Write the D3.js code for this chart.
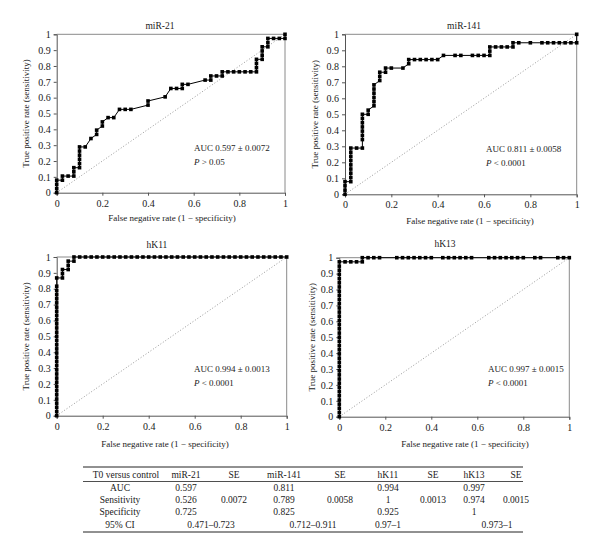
<!DOCTYPE html>
<html><head><meta charset="utf-8">
<script src="https://cdn.jsdelivr.net/npm/d3@7"></script>
<style>body{margin:0;background:#fff}svg{display:block}text{font-family:"Liberation Serif","DejaVu Serif",serif;fill:#1a1a1a}</style>
</head><body>
<script>
// ---- data ----
const titles = ["miR-21", "miR-141", "hK11", "hK13"];
const aucLabels = ["AUC 0.597 \u00b1 0.0072", "AUC 0.811 \u00b1 0.0058", "AUC 0.994 \u00b1 0.0013", "AUC 0.997 \u00b1 0.0015"];
const pOps = ["> 0.05", "< 0.0001", "< 0.0001", "< 0.0001"];
const yTicks = [0,0.1,0.2,0.3,0.4,0.5,0.6,0.7,0.8,0.9,1];
const xTicks = [0,0.2,0.4,0.6,0.8,1];

const mir21Fpr = [0,0,0,0,0.025,0.025,0.05,0.075,0.075,0.075,0.1,0.1,0.1,0.1,0.1,0.1,0.125,0.15,0.175,0.175,0.2,0.2,0.225,0.25,0.275,0.3,0.325,0.4,0.4,0.475,0.5,0.525,0.55,0.55,0.575,0.65,0.675,0.675,0.7,0.725,0.725,0.75,0.775,0.8,0.825,0.85,0.875,0.875,0.875,0.875,0.9,0.9,0.9,0.9,0.925,0.925,0.925,0.95,0.975,1,1];
const mir21Tpr = [0,0.026,0.053,0.079,0.079,0.105,0.105,0.105,0.132,0.158,0.158,0.184,0.211,0.237,0.263,0.289,0.289,0.342,0.368,0.395,0.421,0.447,0.474,0.474,0.526,0.526,0.526,0.553,0.579,0.605,0.658,0.658,0.658,0.684,0.684,0.711,0.711,0.737,0.737,0.737,0.763,0.763,0.763,0.763,0.763,0.763,0.763,0.789,0.816,0.842,0.842,0.868,0.895,0.921,0.921,0.947,0.974,0.974,0.974,0.974,1];

const mir141Fpr = [0,0,0,0,0.025,0.025,0.025,0.025,0.025,0.025,0.025,0.025,0.025,0.05,0.075,0.075,0.075,0.075,0.075,0.075,0.075,0.075,0.1,0.1,0.125,0.125,0.125,0.125,0.125,0.125,0.15,0.15,0.15,0.175,0.175,0.2,0.25,0.275,0.275,0.3,0.325,0.35,0.375,0.4,0.425,0.475,0.5,0.55,0.575,0.6,0.625,0.625,0.625,0.65,0.675,0.7,0.725,0.725,0.75,0.8,0.85,0.875,0.9,0.925,0.95,0.975,1,1];
const mir141Tpr = [0,0.026,0.053,0.079,0.079,0.105,0.132,0.158,0.184,0.211,0.237,0.263,0.289,0.289,0.289,0.342,0.368,0.395,0.421,0.447,0.474,0.5,0.5,0.526,0.553,0.579,0.605,0.632,0.658,0.684,0.711,0.737,0.763,0.763,0.789,0.789,0.789,0.816,0.842,0.842,0.842,0.842,0.842,0.842,0.868,0.868,0.868,0.868,0.868,0.868,0.868,0.895,0.921,0.921,0.921,0.921,0.921,0.947,0.947,0.947,0.947,0.947,0.947,0.947,0.947,0.947,0.947,1];

const hk11Fpr = [0,0,0,0,0,0,0,0,0,0,0,0,0,0,0,0,0,0,0,0,0,0,0,0,0,0,0,0,0,0,0,0,0,0.025,0.025,0.025,0.05,0.05,0.05,0.075,0.075,0.1,0.125,0.15,0.175,0.2,0.225,0.25,0.275,0.3,0.325,0.35,0.375,0.4,0.425,0.45,0.475,0.5,0.525,0.55,0.575,0.6,0.625,0.65,0.675,0.7,0.725,0.75,0.775,0.8,0.825,0.85,0.875,0.9,0.925,0.95,0.975,1];
const hk11Tpr = [0,0.026,0.053,0.079,0.105,0.132,0.158,0.184,0.211,0.237,0.263,0.289,0.316,0.342,0.368,0.395,0.421,0.447,0.474,0.5,0.526,0.553,0.579,0.605,0.632,0.658,0.684,0.711,0.737,0.763,0.789,0.816,0.868,0.868,0.895,0.921,0.921,0.947,0.974,0.974,1,1,1,1,1,1,1,1,1,1,1,1,1,1,1,1,1,1,1,1,1,1,1,1,1,1,1,1,1,1,1,1,1,1,1,1,1,1];

const hk13Fpr = [0,0,0,0,0,0,0,0,0,0,0,0,0,0,0,0,0,0,0,0,0,0,0,0,0,0,0,0,0,0,0,0,0,0,0,0,0,0,0.025,0.05,0.075,0.1,0.1,0.125,0.15,0.175,0.25,0.275,0.3,0.325,0.35,0.375,0.4,0.45,0.475,0.5,0.525,0.55,0.575,0.65,0.675,0.7,0.725,0.75,0.775,0.8,0.85,0.875,0.95,0.975,1];
const hk13Tpr = [0,0.026,0.053,0.079,0.105,0.132,0.158,0.184,0.211,0.237,0.263,0.289,0.316,0.342,0.368,0.395,0.421,0.447,0.474,0.5,0.526,0.553,0.579,0.605,0.632,0.658,0.684,0.711,0.737,0.763,0.789,0.816,0.842,0.868,0.895,0.921,0.947,0.974,0.974,0.974,0.974,0.974,1,1,1,1,1,1,1,1,1,1,1,1,1,1,1,1,1,1,1,1,1,1,1,1,1,1,1,1,1];

const tableHeader = ["T0 versus control","miR-21","SE","miR-141","SE","hK11","SE","hK13","SE"];
const tableRows = [
  ["AUC","0.597","","0.811","","0.994","","0.997",""],
  ["Sensitivity","0.526","0.0072","0.789","0.0058","1","0.0013","0.974","0.0015"],
  ["Specificity","0.725","","0.825","","0.925","","1",""]
];
const ciRow = ["95% CI","0.471\u20130.723","0.712\u20130.911","0.97\u20131","0.973\u20131"];

// ---- layout ----
const W = 600, H = 552;
const panels = [
  {x0:56.7, x1:285,   y0:192.7, y1:34.3,  fpr:mir21Fpr,  tpr:mir21Tpr,  tx:160, ty:26,  ylx:26,  xlx:172, xly:218, ax:194, ay:148},
  {x0:345,  x1:576.7, y0:194.3, y1:34.3,  fpr:mir141Fpr, tpr:mir141Tpr, tx:464, ty:26,  ylx:315, xlx:470, xly:221, ax:486, ay:149},
  {x0:56.7, x1:286.7, y0:415.7, y1:257,   fpr:hk11Fpr,   tpr:hk11Tpr,   tx:157, ty:245, ylx:26,  xlx:165, xly:444, ax:194, ay:369},
  {x0:339.3,x1:569.3, y0:416.7, y1:257.7, fpr:hk13Fpr,   tpr:hk13Tpr,   tx:445, ty:244, ylx:312, xlx:465, xly:444, ax:488, ay:369}
];

const svg = d3.select("body").append("svg").attr("width", W).attr("height", H);

panels.forEach((p, i) => {
  const x = d3.scaleLinear().domain([0,1]).range([p.x0, p.x1]);
  const y = d3.scaleLinear().domain([0,1]).range([p.y0, p.y1]);
  const g = svg.append("g");

  // frame top/right
  g.append("path").attr("d", `M${x(0)},${y(1)}H${x(1)}V${y(0)}`).attr("fill","none").attr("stroke","#8a8a8a").attr("stroke-width",1);

  // diagonal
  g.append("line").attr("x1",x(0)).attr("y1",y(0)).attr("x2",x(1)).attr("y2",y(1))
    .attr("stroke","#8c8c8c").attr("stroke-width",0.9).attr("stroke-dasharray","1,2");

  // axes
  const ya = d3.axisLeft(y).tickValues(yTicks).tickFormat(d3.format("~g")).tickSize(3).tickPadding(3);
  const xa = d3.axisBottom(x).tickValues(xTicks).tickFormat(d3.format("~g")).tickSize(3).tickPadding(4);
  const gy = g.append("g").attr("transform", `translate(${x(0)},0)`).call(ya);
  const gx = g.append("g").attr("transform", `translate(0,${y(0)})`).call(xa);
  [gx, gy].forEach(a => {
    a.select(".domain").attr("stroke","#555");
    a.selectAll(".tick line").attr("stroke","#555");
    a.selectAll("text").style("font-family",'"Liberation Serif",serif').style("font-size","10px").attr("fill","#1a1a1a");
  });

  // curve
  const pts = p.fpr.map((f, k) => [f, p.tpr[k]]);
  g.append("path").datum(pts).attr("fill","none").attr("stroke","#000").attr("stroke-width",1)
    .attr("d", d3.line().x(d => x(d[0])).y(d => y(d[1])));
  g.selectAll("rect.m").data(pts).join("rect").attr("class","m")
    .attr("x", d => x(d[0]) - 1.8).attr("y", d => y(d[1]) - 1.8)
    .attr("width", 3.6).attr("height", 3.6).attr("fill","#000");

  // labels
  g.append("text").attr("x", p.tx).attr("y", p.ty).attr("dy","0.35em").attr("text-anchor","middle").style("font-size","9.5px").text(titles[i]);
  g.append("text").attr("x", p.xlx).attr("y", p.xly).attr("dy","0.35em").attr("text-anchor","middle").style("font-size","9px").text("False negative rate (1 \u2212 specificity)");
  g.append("text").attr("transform", `translate(${p.ylx},${(p.y0+p.y1)/2}) rotate(-90)`).attr("text-anchor","middle").attr("dy","0.35em").style("font-size","9px").text("True positive rate (sensitivity)");
  g.append("text").attr("x", p.ax).attr("y", p.ay).attr("dy","0.35em").style("font-size","9px").text(aucLabels[i]);
  const pt = g.append("text").attr("x", p.ax).attr("y", p.ay + 13.5).attr("dy","0.35em").style("font-size","9px");
  pt.append("tspan").style("font-style","italic").text("P");
  pt.append("tspan").text(" " + pOps[i]);
});

// ---- table ----
const colX = [120, 186, 234, 284, 340, 388, 433, 474, 516];
const rowY = [475, 487.5, 499.5, 512, 525];
const tg = svg.append("g").style("font-size","9.5px");
tg.append("line").attr("x1",83).attr("x2",523).attr("y1",467).attr("y2",467).attr("stroke","#222").attr("stroke-width",1);
tg.append("line").attr("x1",83).attr("x2",523).attr("y1",481.5).attr("y2",481.5).attr("stroke","#222").attr("stroke-width",0.8);
tg.append("line").attr("x1",83).attr("x2",523).attr("y1",532).attr("y2",532).attr("stroke","#222").attr("stroke-width",1);
tableHeader.forEach((t, c) => {
  tg.append("text").attr("x", c === 0 ? 126 : colX[c]).attr("y", rowY[0]).attr("dy","0.35em").attr("text-anchor","middle").text(t);
});
tableRows.forEach((r, ri) => {
  r.forEach((t, c) => {
    if (t) tg.append("text").attr("x", colX[c]).attr("y", rowY[ri+1]).attr("dy","0.35em").attr("text-anchor","middle").text(t);
  });
});
const ciX = [120, 211, 313, 388, 497];
ciRow.forEach((t, c) => {
  tg.append("text").attr("x", ciX[c]).attr("y", rowY[4]).attr("dy","0.35em").attr("text-anchor","middle").text(t);
});
</script>
</body></html>
